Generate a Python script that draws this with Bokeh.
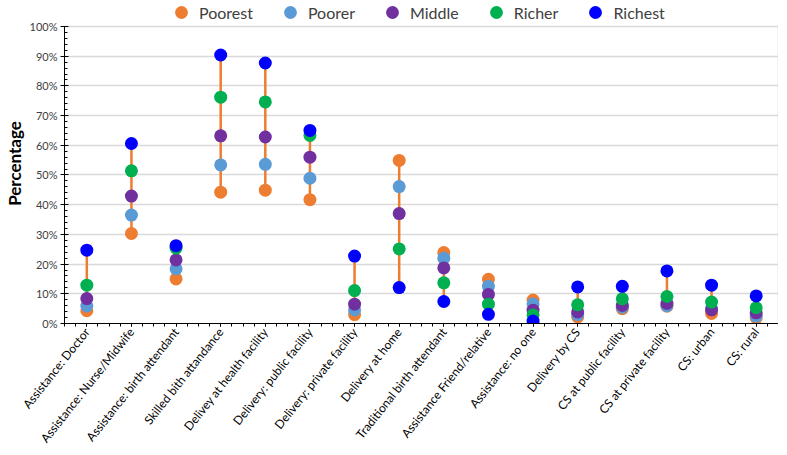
from bokeh.plotting import figure
from bokeh.models import (Range1d, NumeralTickFormatter, SingleIntervalTicker,
                          Legend, LegendItem, FixedTicker, LinearAxis)
from bokeh.embed import file_html
from bokeh.resources import INLINE

categories = [
    "Assistance: Doctor", "Assistance: Nurse/Midwife", "Assistance: birth attendant",
    "Skilled bith attandance", "Delivey at health facility", "Delivery: public facility",
    "Delivery: private facility", "Delivery at home", "Traditional birth attendant",
    "Assistance Friend/relative", "Assistance: no one", "Delivery by CS",
    "CS at public facility", "CS at private facility", "CS: urban", "CS: rural",
]
poorest = [4.3, 30.3, 15.0, 44.2, 44.9, 41.7, 3.0, 54.9, 23.9, 14.9, 7.9, 2.2, 5.0, 5.8, 3.4, 1.9]
poorer  = [5.9, 36.5, 18.4, 53.4, 53.6, 48.9, 4.6, 46.1, 22.0, 12.5, 6.6, 3.0, 5.5, 6.0, 5.0, 2.5]
middle  = [8.4, 42.9, 21.4, 63.2, 62.8, 56.0, 6.5, 37.0, 18.7, 9.8, 4.5, 3.9, 6.1, 6.8, 4.6, 3.6]
richer  = [12.9, 51.4, 25.4, 76.2, 74.6, 63.3, 11.1, 25.1, 13.7, 6.5, 2.9, 6.3, 8.3, 9.1, 7.2, 5.3]
richest = [24.7, 60.6, 26.2, 90.4, 87.7, 65.0, 22.7, 12.1, 7.4, 3.1, 0.8, 12.3, 12.5, 17.7, 12.9, 9.3]

series = [("Poorest", poorest, "#ED7D31"), ("Poorer", poorer, "#5B9BD5"),
          ("Middle", middle, "#7030A0"), ("Richer", richer, "#00B050"),
          ("Richest", richest, "#0000FF")]

FONT = "Lato"
FW, FH = 714, 320
YTOP = 1.0774
n = len(categories)
xpos = [i + 0.5 for i in range(n)]   # band centres of the categories

p = figure(frame_width=FW, frame_height=FH,
           x_range=Range1d(0, n), y_range=Range1d(0, YTOP),
           output_backend="svg", toolbar_location=None,
           min_border_left=55, min_border_right=0, min_border_top=3, min_border_bottom=126)

allv = list(zip(*[s[1] for s in series]))
lo = [min(v) / 100 for v in allv]
hi = [max(v) / 100 for v in allv]
p.segment(x0=xpos, y0=lo, x1=xpos, y1=hi, line_color="#ED7D31", line_width=2.5)

items = []
for name, vals, col in series:
    r = p.scatter(x=xpos, y=[v / 100 for v in vals], size=13, fill_color=col,
                  line_color=col, line_width=0)
    items.append(LegendItem(label=name, renderers=[r]))

legend = Legend(items=items, orientation="horizontal", location=(101, FH - 25),
                label_text_font=FONT, label_text_font_size="16px", label_text_color="#404040",
                glyph_width=32, glyph_height=32, label_height=16, label_standoff=2, spacing=21,
                padding=0, margin=0, border_line_color=None, background_fill_alpha=0)
p.add_layout(legend)

p.outline_line_color = None
p.xgrid.grid_line_color = None
p.ygrid.grid_line_color = "#d9d9d9"
p.ygrid.grid_line_width = 1.3

yax = p.yaxis[0]
yax.bounds = (0, 1.0)
yax.ticker = SingleIntervalTicker(interval=0.1, num_minor_ticks=5)
p.ygrid.ticker = yax.ticker
yax.formatter = NumeralTickFormatter(format="0%")
yax.axis_label = "Percentage"
yax.axis_label_text_font = FONT
yax.axis_label_text_font_style = "bold"
yax.axis_label_text_font_size = "17px"
yax.axis_label_text_color = "black"
yax.axis_label_standoff = 2
yax.major_label_text_font = FONT
yax.major_label_text_font_size = "11px"
yax.major_label_text_color = "#404040"
yax.major_label_standoff = 3
yax.axis_line_color = "black"
yax.major_tick_line_color = "black"
yax.minor_tick_line_color = "black"
yax.major_tick_in = 4
yax.major_tick_out = 4
yax.minor_tick_in = 3
yax.minor_tick_out = 0

# light frame border on the right, up to 100%
right = LinearAxis(bounds=(0, 1.0), ticker=FixedTicker(ticks=[]),
                   axis_line_color="#bfbfbf", axis_line_width=1.3,
                   major_tick_line_color=None, minor_tick_line_color=None,
                   major_tick_in=0, major_tick_out=0, minor_tick_in=0, minor_tick_out=0,
                   major_label_text_font_size="0px", major_label_standoff=0)
p.add_layout(right, "right")

xax = p.xaxis[0]
xax.ticker = FixedTicker(ticks=xpos, minor_ticks=[k / 4 for k in range(4 * n + 1)])
xax.major_label_overrides = {x: c for x, c in zip(xpos, categories)}
xax.major_label_orientation = 0.9
xax.major_label_text_font = FONT
xax.major_label_text_font_size = "12px"
xax.major_label_text_color = "black"
xax.axis_line_color = "black"
xax.major_tick_line_color = "black"
xax.minor_tick_line_color = "black"
xax.major_tick_in = 0
xax.major_tick_out = 3
xax.minor_tick_in = 0
xax.minor_tick_out = 3
xax.major_label_standoff = 3

open("out.html", "w").write(file_html(p, INLINE))
